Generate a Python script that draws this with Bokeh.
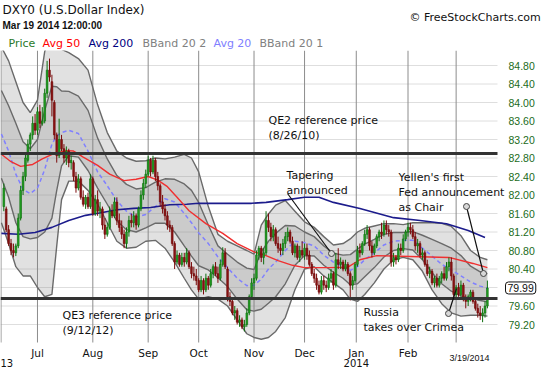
from bokeh.plotting import figure
from bokeh.models import Range1d, Label, ColumnDataSource
from bokeh.core.properties import value
from bokeh.embed import file_html
from bokeh.resources import INLINE

# ---------------- data ----------------
opens = [81.75,81.70,81.25,80.95,80.80,80.75,80.90,81.50,82.10,82.40,
82.75,83.10,83.30,83.55,83.40,83.80,83.55,83.60,84.20,84.70,
84.45,84.00,83.30,82.85,83.20,83.00,82.80,82.95,82.70,82.70,
82.40,82.15,82.35,81.95,81.80,81.95,81.75,82.35,81.60,81.90,
81.65,81.70,81.35,81.15,81.30,81.65,81.55,81.85,81.45,81.30,
81.15,80.95,81.20,81.45,81.40,81.55,81.35,81.70,82.00,82.25,
82.45,82.75,82.50,82.75,82.40,82.20,81.85,81.70,81.55,81.35,
81.30,80.95,80.55,80.70,80.50,80.65,80.55,80.75,80.45,80.30,
80.25,80.15,79.95,80.15,79.95,80.20,80.05,80.30,80.45,80.30,
80.20,80.50,80.75,80.40,79.80,79.70,79.45,79.50,79.25,79.30,
79.15,79.20,79.45,79.80,80.10,80.20,80.70,80.85,80.65,80.75,
81.45,81.30,81.10,81.25,80.95,80.85,80.80,80.95,81.10,81.20,
81.00,80.75,80.90,80.65,80.80,80.70,80.85,80.70,80.50,80.30,
80.20,80.05,79.90,80.15,80.05,80.00,80.20,80.30,80.05,80.60,
80.50,80.55,80.40,80.50,80.30,80.05,80.15,80.50,80.80,80.75,
80.95,81.15,81.25,80.90,80.75,80.90,81.10,81.20,81.15,81.35,
81.25,81.20,80.55,80.65,80.60,80.85,80.80,81.05,81.20,81.30,
81.25,81.10,80.90,80.95,80.70,80.75,80.50,80.30,80.35,80.10,
80.20,80.05,80.20,80.30,80.20,80.45,80.55,80.25,79.85,80.00,
79.85,80.05,79.75,79.70,79.80,79.90,79.70,79.55,79.45,79.40,
79.45,79.60]
highs = [82.25,81.75,81.35,81.05,80.95,80.95,81.60,82.20,82.50,82.90,
83.20,83.35,83.70,83.75,83.90,83.95,83.90,84.30,84.90,84.95,
84.60,84.05,83.35,83.65,83.30,83.10,83.05,83.00,82.85,82.75,
82.50,82.45,82.40,82.10,82.00,82.05,82.45,82.40,82.00,82.10,
81.85,81.75,81.50,81.40,81.75,81.80,81.95,81.95,81.60,81.45,
81.25,81.30,81.55,81.60,81.65,81.60,81.75,82.10,82.35,82.55,
82.85,82.80,82.85,82.80,82.50,82.25,82.00,81.80,81.65,81.45,
81.35,81.00,80.80,80.75,80.75,80.75,80.85,80.80,80.55,80.45,
80.40,80.20,80.25,80.20,80.30,80.25,80.40,80.50,80.55,80.45,
80.60,80.87,80.85,80.45,79.90,79.75,79.60,79.55,79.40,79.35,
79.30,79.55,79.85,80.20,80.30,80.80,80.90,80.90,80.85,81.65,
81.60,81.40,81.35,81.30,81.10,80.95,81.05,81.20,81.30,81.25,
81.10,80.95,80.95,80.90,81.00,80.95,80.95,80.80,80.55,80.40,
80.30,80.15,80.25,80.25,80.15,80.30,80.40,80.35,80.75,80.85,
80.65,80.60,80.60,80.55,80.35,80.25,80.55,80.90,80.95,81.00,
81.25,81.35,81.30,81.00,80.95,81.15,81.25,81.40,81.45,81.45,
81.35,81.25,80.75,80.70,80.95,80.95,81.15,81.25,81.40,81.40,
81.35,81.20,81.05,81.00,80.85,80.80,80.60,80.45,80.40,80.25,
80.30,80.25,80.35,80.45,80.55,80.65,80.65,80.30,80.05,80.10,
80.15,80.10,79.85,79.85,79.95,79.95,79.75,79.65,79.60,79.55,
79.70,80.15]
lows = [81.65,81.20,80.90,80.70,80.65,80.68,80.85,81.45,82.00,82.30,
82.70,82.95,83.20,83.30,83.30,83.45,83.50,83.55,84.10,84.45,
83.70,83.20,82.70,82.80,82.95,82.70,82.65,82.60,82.55,82.30,
82.05,82.10,81.90,81.75,81.70,81.70,81.70,81.55,81.55,81.55,
81.50,81.25,81.05,81.10,81.25,81.50,81.50,81.35,81.20,81.05,
80.85,80.85,81.10,81.30,81.30,81.25,81.30,81.65,81.90,82.15,
82.40,82.40,82.45,82.30,82.10,81.75,81.60,81.45,81.25,81.20,
80.90,80.40,80.50,80.45,80.45,80.45,80.50,80.40,80.20,80.15,
80.05,79.90,79.90,79.85,79.90,79.95,80.00,80.20,80.25,80.10,
80.15,80.45,80.40,79.70,79.60,79.40,79.30,79.20,79.15,79.10,
79.05,79.15,79.40,79.75,79.95,80.15,80.60,80.55,80.50,80.70,
81.20,81.00,81.00,80.90,80.75,80.70,80.70,80.85,81.00,80.95,
80.70,80.65,80.60,80.55,80.65,80.60,80.60,80.45,80.25,80.10,
79.95,79.85,79.85,79.95,79.90,79.95,80.10,79.95,80.00,80.40,
80.40,80.35,80.35,80.25,79.72,79.95,80.10,80.45,80.65,80.70,
80.90,81.05,80.80,80.65,80.70,80.85,81.00,81.05,81.10,81.15,
81.10,80.45,80.45,80.50,80.55,80.70,80.75,81.00,81.10,81.15,
81.05,80.80,80.75,80.65,80.60,80.45,80.25,80.20,80.05,80.00,
80.00,80.00,80.10,80.15,80.15,80.35,80.15,79.75,79.75,79.80,
79.80,79.70,79.55,79.60,79.70,79.65,79.50,79.35,79.30,79.25,
79.35,79.55]
closes = [82.15,81.25,80.95,80.80,80.75,80.90,81.50,82.10,82.40,82.80,
83.10,83.30,83.55,83.40,83.80,83.55,83.60,84.20,84.70,84.55,
84.05,83.30,82.85,83.20,83.00,82.80,82.95,82.70,82.75,82.40,
82.15,82.35,81.95,81.80,81.95,81.75,82.35,81.60,81.90,81.65,
81.70,81.35,81.15,81.30,81.65,81.55,81.85,81.45,81.30,81.15,
80.95,81.20,81.45,81.40,81.55,81.35,81.70,82.00,82.25,82.45,
82.75,82.50,82.75,82.40,82.20,81.85,81.70,81.55,81.35,81.30,
80.95,80.55,80.70,80.50,80.65,80.55,80.75,80.45,80.30,80.25,
80.15,79.95,80.15,79.95,80.20,80.05,80.30,80.45,80.30,80.20,
80.50,80.75,80.45,79.80,79.70,79.45,79.50,79.25,79.30,79.15,
79.20,79.45,79.80,80.10,80.20,80.70,80.85,80.65,80.75,81.45,
81.30,81.10,81.25,80.95,80.85,80.80,80.95,81.10,81.20,81.00,
80.75,80.90,80.65,80.80,80.70,80.85,80.70,80.50,80.30,80.20,
80.05,79.90,80.15,80.05,80.00,80.20,80.30,80.05,80.60,80.50,
80.55,80.40,80.50,80.30,80.05,80.15,80.50,80.80,80.75,80.95,
81.15,81.25,80.90,80.75,80.90,81.10,81.20,81.15,81.35,81.25,
81.20,80.55,80.65,80.60,80.85,80.80,81.05,81.20,81.30,81.25,
81.10,80.90,80.95,80.70,80.75,80.50,80.30,80.35,80.10,80.20,
80.05,80.20,80.30,80.20,80.45,80.55,80.25,79.85,80.00,79.85,
80.05,79.75,79.70,79.80,79.90,79.70,79.55,79.45,79.40,79.45,
79.60,79.99]

# Bollinger bands (20,2) / (20,1) and Avg 20, sampled along the trading-day axis
bb_x = [-1, 2, 5, 8, 11, 14, 17, 20, 22, 24, 27, 31, 35, 39, 43, 47, 51, 55, 59, 63,
        67, 71, 75, 78, 81, 85, 89, 93, 97, 101, 104, 107, 110, 113, 117, 121, 125, 129,
        133, 137, 141, 144, 147, 150, 154, 158, 162, 166, 170, 174, 178, 182, 186, 190,
        194, 198, 201]
avg20 = [83.32, 82.95, 82.45, 82.12, 82.03, 82.15, 82.55, 83.10, 83.28, 83.35, 83.40,
         83.33, 82.95, 82.50, 82.20, 81.88, 81.65, 81.52, 81.58, 81.75, 81.92, 81.85,
         81.60, 81.40, 81.18, 80.95, 80.66, 80.43, 80.20, 80.04, 80.05, 80.18, 80.40,
         80.55, 80.80, 81.00, 80.97, 80.90, 80.70, 80.55, 80.45, 80.37, 80.45, 80.60,
         80.75, 80.92, 81.00, 81.02, 81.02, 80.85, 80.68, 80.50, 80.38, 80.25, 80.12,
         80.03, 79.99]
band2_upper = [85.20, 84.90, 84.45, 84.00, 83.78, 84.05, 85.10, 85.60, 85.40, 85.15, 85.08,
               84.95, 84.70, 83.95, 83.35, 82.95, 82.80, 82.73, 82.74, 82.80, 82.78, 82.82,
               82.88, 82.80, 82.50, 81.75, 81.15, 81.00, 80.90, 80.80, 80.72, 81.35, 81.59,
               81.78, 81.88, 81.65, 81.42, 81.30, 81.10, 80.92, 80.95, 81.05, 81.20, 81.28,
               81.33, 81.38, 81.38, 81.36, 81.40, 81.40, 81.40, 81.39, 81.32, 81.12, 80.80,
               80.65, 80.60]
band2_lower = [81.40, 80.95, 80.45, 80.25, 80.25, 80.00, 79.80, 79.85, 80.90, 81.90, 82.30,
               82.30, 82.10, 81.80, 81.40, 81.00, 80.85, 80.87, 81.00, 81.02, 80.85, 80.55,
               80.20, 79.95, 79.75, 79.80, 79.75, 79.60, 79.30, 79.00, 78.92, 78.88, 78.92,
               79.05, 79.35, 79.95, 80.40, 80.45, 80.25, 80.10, 79.95, 79.75, 79.70, 79.85,
               80.10, 80.40, 80.60, 80.65, 80.60, 80.35, 79.95, 79.65, 79.45, 79.38, 79.40,
               79.40, 79.38]
band1_upper = [84.26, 83.93, 83.55, 83.15, 83.00, 83.20, 83.83, 84.35, 84.34, 84.25, 84.24,
               84.14, 83.83, 83.23, 82.78, 82.42, 82.23, 82.13, 82.16, 82.28, 82.35, 82.34,
               82.24, 82.10, 81.84, 81.35, 80.90, 80.72, 80.55, 80.42, 80.39, 80.77, 81.00,
               81.17, 81.34, 81.33, 81.20, 81.10, 80.90, 80.74, 80.70, 80.71, 80.83, 80.94,
               81.04, 81.15, 81.19, 81.19, 81.21, 81.13, 81.04, 80.95, 80.85, 80.69, 80.46,
               80.34, 80.30]
band1_lower = [82.36, 81.95, 81.40, 81.10, 81.05, 81.08, 81.20, 81.50, 82.10, 82.63, 82.85,
               82.82, 82.53, 82.15, 81.80, 81.44, 81.25, 81.20, 81.29, 81.39, 81.39, 81.20,
               80.90, 80.68, 80.47, 80.38, 80.21, 80.02, 79.75, 79.52, 79.49, 79.53, 79.66,
               79.80, 80.08, 80.48, 80.69, 80.68, 80.48, 80.33, 80.20, 80.06, 80.08, 80.23,
               80.43, 80.66, 80.80, 80.84, 80.81, 80.60, 80.32, 80.08, 79.92, 79.82, 79.76,
               79.72, 79.69]

ma50_x = [-1, 3, 7, 12, 16, 21, 26, 29, 33, 39, 44, 50, 55, 60, 64, 68, 72, 77, 84, 91,
          97, 104, 109, 114, 120, 125, 135, 143, 148, 155, 169, 185, 195, 201]
avg50 = [82.88, 82.72, 82.62, 82.66, 82.78, 82.90, 82.96, 82.95, 82.82, 82.64, 82.45,
         82.31, 82.34, 82.40, 82.32, 82.18, 81.95, 81.66, 81.38, 81.17, 80.95, 80.77,
         80.69, 80.58, 80.48, 80.43, 80.43, 80.44, 80.60, 80.69, 80.67, 80.65, 80.52, 80.43]
ma200_x = [-1, 6, 13, 20, 27, 34, 41, 47, 54, 61, 69, 76, 81, 90, 103, 109, 118, 125,
           131, 137, 148, 162, 173, 184, 193, 200]
avg200 = [81.17, 81.15, 81.19, 81.30, 81.45, 81.56, 81.62, 81.68, 81.71, 81.73, 81.79,
          81.80, 81.82, 81.82, 81.82, 81.84, 81.90, 81.95, 81.95, 81.84, 81.71, 81.51,
          81.45, 81.38, 81.23, 81.08]

month_ticks = [14, 37, 60, 81, 104, 125, 146.5, 168, 188]
month_labels = ["Jul", "Aug", "Sep", "Oct", "Nov", "Dec", "Jan", "Feb", "Mar"]
price_ticks = [79.20, 79.60, 80.00, 80.40, 80.80, 81.20, 81.60, 82.00, 82.40, 82.80,
               83.20, 83.60, 84.00, 84.40, 84.80]
price_labels = ["%.2f" % v for v in price_ticks]
qe2_price = 82.90
qe3_price = 79.76
last_price = 79.99

# ---------------- layout: the frame covers the whole canvas ----------------
def rx(x):          # canvas pixel x -> trading-day index
    return (x - 3.3) / 2.406

def ry(y):          # canvas pixel y -> price
    return 84.80 - (y - 65) / 46.25

X0, X1 = rx(0), rx(497)       # plot area, left/right
Y0, Y1 = ry(342), ry(50)      # plot area, bottom/top
FONT = "DejaVu Sans"

p = figure(width=542, height=367,
           x_range=Range1d(rx(0), rx(542)), y_range=Range1d(ry(367), ry(0)),
           output_backend="svg", toolbar_location=None,
           x_axis_location=None, y_axis_location=None,
           min_border_left=0, min_border_right=0, min_border_top=0, min_border_bottom=0)
p.grid.visible = False
p.outline_line_color = None
p.background_fill_color = "white"
p.border_fill_color = "white"

# grid lines of the plot area
p.segment(x0=[X0] * len(price_ticks), y0=price_ticks, x1=[X1] * len(price_ticks), y1=price_ticks,
          line_color="#dedede", line_width=1)
p.segment(x0=month_ticks, y0=[Y0] * len(month_ticks), x1=month_ticks, y1=[Y1] * len(month_ticks),
          line_color="#8c8c8c", line_width=1)
p.segment(x0=[rx(0.5)], y0=[Y0], x1=[rx(0.5)], y1=[Y1], line_color="#8c8c8c", line_width=1)

# bands
p.varea(x=bb_x, y1=band2_lower, y2=band2_upper, fill_color="#808080", fill_alpha=0.24)
p.varea(x=bb_x, y1=band1_lower, y2=band1_upper, fill_color="#808080", fill_alpha=0.22)
for arr in (band2_upper, band2_lower, band1_upper, band1_lower):
    p.line(bb_x, arr, line_color="#6a6a6a", line_width=1.4)
p.line(bb_x, avg20, line_color="#8080ff", line_width=1.5, line_dash="4 3")
p.line(ma200_x, avg200, line_color="#1c1c8c", line_width=1.6)
p.line(ma50_x, avg50, line_color="#f03030", line_width=1.4)

# candles
days = list(range(len(closes)))
up_idx = [i for i in days if closes[i] >= opens[i]]
dn_idx = [i for i in days if closes[i] < opens[i]]

def cds(idx):
    return ColumnDataSource(dict(
        x=[days[i] for i in idx],
        hi=[highs[i] for i in idx], lo=[lows[i] for i in idx],
        top=[max(opens[i], closes[i]) for i in idx],
        bot=[min(opens[i], closes[i]) for i in idx]))

su, sd = cds(up_idx), cds(dn_idx)
p.segment(x0="x", y0="lo", x1="x", y1="hi", source=su, line_color="#0e6e0e", line_width=1)
p.segment(x0="x", y0="lo", x1="x", y1="hi", source=sd, line_color="#7a0a0a", line_width=1)
p.vbar(x="x", top="top", bottom="bot", width=0.72, source=su,
       fill_color="#22a022", line_color="#0e6e0e", line_width=0.6)
p.vbar(x="x", top="top", bottom="bot", width=0.72, source=sd,
       fill_color="#8b1414", line_color="#6e0606", line_width=0.6)

# reference lines
p.segment(x0=[X0, X0], y0=[qe2_price, qe3_price], x1=[X1, X1], y1=[qe2_price, qe3_price],
          line_color="#333333", line_width=3)

# annotation leader lines
p.segment(x0=[rx(287), rx(466), rx(448)], y0=[ry(193), ry(206), ry(313)],
          x1=[rx(331), rx(483), rx(456)], y1=[ry(253), ry(273), ry(288)],
          line_color="#111111", line_width=1.2)
p.scatter(x=[rx(331), rx(466), rx(483), rx(448)], y=[ry(253), ry(206), ry(273), ry(313)],
          size=6, fill_color="#d8d8d8", line_color="#444444", line_width=1)

# white mask above the plot area (header zone)
p.quad(left=[rx(0)], right=[rx(542)], bottom=[Y1], top=[ry(0)], fill_color="white", line_color=None)

# axis labels
p.text(x=[rx(508)] * len(price_ticks), y=price_ticks, text=price_labels,
       text_font=value("Liberation Sans"), text_font_size="10.5px", text_color="#1b6b1b",
       text_baseline="middle", text_align="left")
p.text(x=month_ticks[:-1], y=[ry(352)] * (len(month_ticks) - 1), text=month_labels[:-1],
       text_font=value(FONT), text_font_size="10.5px", text_color="#111111",
       text_baseline="middle", text_align="center")

def txt(s, x, y, size="11px", color="#111111", font=FONT, style="normal", align="left"):
    p.add_layout(Label(x=rx(x), y=ry(y), text=s, text_font=font, text_font_size=size,
                       text_color=color, text_baseline="middle", text_align=align,
                       text_font_style=style))

# header
txt("DXY0 (U.S.Dollar Index)", 2, 9, size="12px")
txt("Mar 19 2014 12:00:00", 2, 25, size="10px", font="Liberation Sans", style="bold")
txt("\u00a9 FreeStockCharts.com", 409, 17, size="11px")
for s, x, c in [("Price", 8, "#2a7a2a"), ("Avg 50", 42, "#ff0000"), ("Avg 200", 88, "#000080"),
                ("BBand 20 2", 142, "#808080"), ("Avg 20", 213, "#8080ff"),
                ("BBand 20 1", 259, "#808080")]:
    txt(s, x, 43, size="11px", color=c)

# chart notes
txt("QE2 reference price", 268, 120)
txt("(8/26/10)", 268, 135)
txt("QE3 reference price", 62, 315)
txt("(9/12/12)", 62, 330)
txt("Tapering", 286, 175)
txt("announced", 286, 190)
txt("Yellen's first", 398, 177)
txt("Fed announcement", 398, 192)
txt("as Chair", 398, 207)
txt("Russia", 363, 312)
txt("takes over Crimea", 363, 327)

# bottom extra labels
txt("13", 0, 362, size="10px")
p.text(x=[month_ticks[6]], y=[ry(362)], text=["2014"], text_font=value(FONT),
       text_font_size="10px", text_color="#111111", text_baseline="middle", text_align="center")
txt("3/19/2014", 449, 357, size="9px", font="Liberation Sans")

# last price box
p.add_layout(Label(x=rx(505), y=last_price, text="%.2f" % last_price, text_font="Liberation Sans",
                   text_font_size="10.5px", text_color="#111111", text_baseline="middle",
                   text_align="left", border_line_color="#111111", border_line_width=1,
                   background_fill_color="white", padding=2, border_radius=3))

open("out.html", "w").write(file_html(p, INLINE))
